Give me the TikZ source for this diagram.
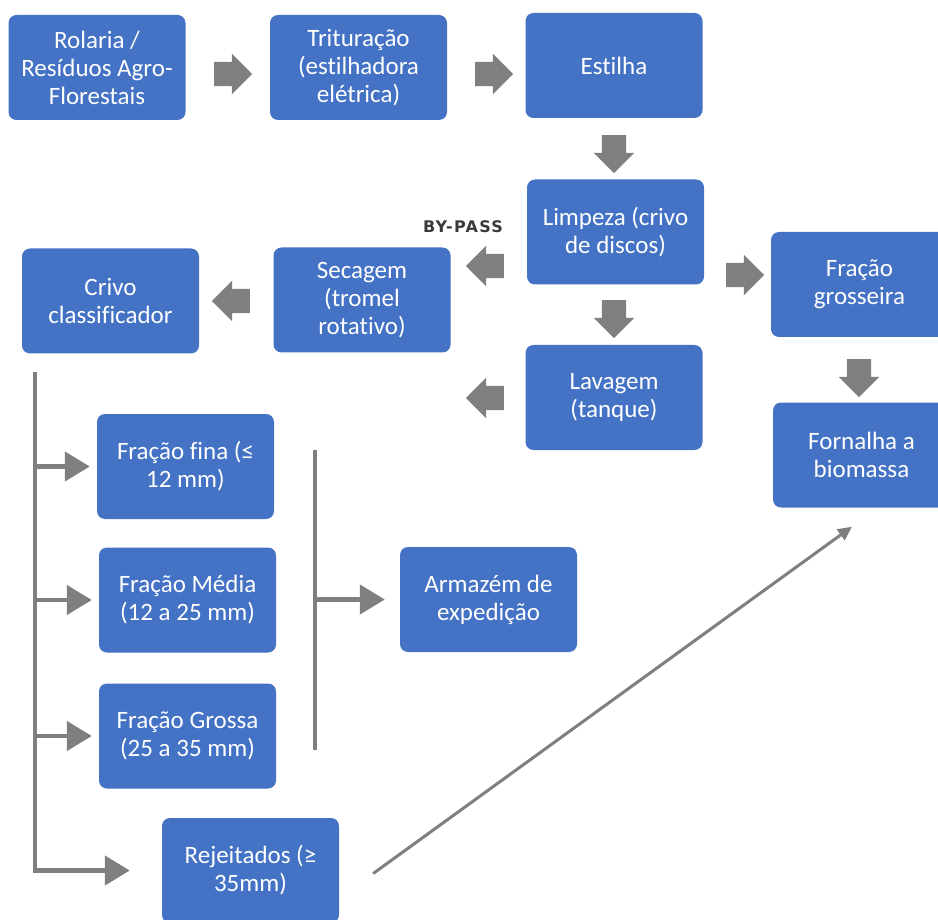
\documentclass[tikz,border=0pt]{standalone}
\usepackage{fontspec}
\setmainfont[Ligatures={NoCommon,NoContextual}]{Carlito}
\newfontfamily\bpfont[LetterSpace=8]{DejaVu Sans}
\usetikzlibrary{shapes.arrows,arrows.meta,calc}
\definecolor{boxblue}{HTML}{4472C4}
\definecolor{arrowgray}{HTML}{7F7F7F}
\definecolor{bptext}{HTML}{3A3A3A}
\tikzset{
  procbox/.style={fill=boxblue, draw=none, rounded corners=8pt, text=white,
    minimum width=177pt, minimum height=105pt, align=center, inner sep=0pt,
    font=\fontsize{25}{28}\selectfont},
  barrow/.style={single arrow, fill=arrowgray, draw=none, minimum height=38pt,
    minimum width=40pt, single arrow head extend=8pt, inner sep=12pt},
  barrowright/.style={barrow, shape border rotate=0},
  barrowleft/.style={barrow, shape border rotate=180},
  barrowdown/.style={barrow, shape border rotate=270},
  trunk/.style={draw=arrowgray, line width=4.5pt},
  branch/.style={draw=arrowgray, line width=4.5pt, -{Triangle[length=25pt,width=29pt]}},
  diagline/.style={draw=arrowgray, line width=3pt, -{Triangle[length=14pt,width=13pt]}}
}
\begin{document}
\begin{tikzpicture}[x=1pt,y=-1pt]
\useasboundingbox (0,0) rectangle (938,920);
% boxes
\node[procbox] (rol) at (97,67.5) {Rolaria /\\Resíduos Agro-\\Florestais};
\node[procbox] (tri) at (358.5,67.5) {Trituração\\(estilhadora\\elétrica)};
\node[procbox] (est) at (614,65.5) {Estilha};
\node[procbox] (lim) at (615.5,232) {Limpeza (crivo\\de discos)};
\node[procbox] (sec) at (362,300) {Secagem\\(tromel\\rotativo)};
\node[procbox] (cri) at (110.5,301) {Crivo\\classificador};
\node[procbox] (fg) at (859.5,284.5) {Fração\\grosseira};
\node[procbox] (lav) at (614,397.5) {Lavagem\\(tanque)};
\node[procbox] (forn) at (861.5,455) {Fornalha a\\biomassa};
\node[procbox] (fina) at (185.5,466.5) {Fração fina (≤\\12 mm)};
\node[procbox] (med) at (187.5,600) {Fração Média\\(12 a 25 mm)};
\node[procbox] (gros) at (187.5,736) {Fração Grossa\\(25 a 35 mm)};
\node[procbox] (arm) at (488.5,599.5) {Armazém de\\expedição};
\node[procbox] (rej) at (250.5,870.5) {Rejeitados (≥\\35mm)};
% block arrows
\node[barrowright] (a1) at (227,74) {};
\node[barrowright] (a2) at (488,74) {};
\node[barrowdown] (a3) at (614,148) {};
\node[barrowleft] (a4) at (491,266) {};
\node[barrowleft] (a5) at (237,301) {};
\node[barrowdown] (a6) at (614,313) {};
\node[barrowright] (a7) at (739,275) {};
\node[barrowdown] (a8) at (859,372) {};
\node[barrowleft] (a9) at (491,398) {};
% by-pass label
\node[font=\bpfont\bfseries\fontsize{16}{16}\selectfont, text=bptext] (bp) at (463,227) {BY-PASS};
% classifier distribution
\coordinate (v1) at (35,372);
\draw[branch, shorten >=32pt] (v1) |- (rej.west);
\draw[branch, shorten >=7pt] (v1 |- fina.west) -- (fina.west);
\draw[branch, shorten >=7pt] (v1 |- med.west) -- (med.west);
\draw[branch, shorten >=7pt] (v1 |- gros.west) -- (gros.west);
% storage collector
\coordinate (v2t) at (315,450);
\coordinate (v2b) at (315,750);
\draw[trunk] (v2t) -- (v2b);
\draw[branch, shorten >=15pt] (v2t |- arm.west) -- (arm.west);
% rejects to furnace
\draw[diagline] ([shift={(34,3)}]rej.east) -- ([shift={(-9.5,19)}]forn.south);
\end{tikzpicture}
\end{document}
